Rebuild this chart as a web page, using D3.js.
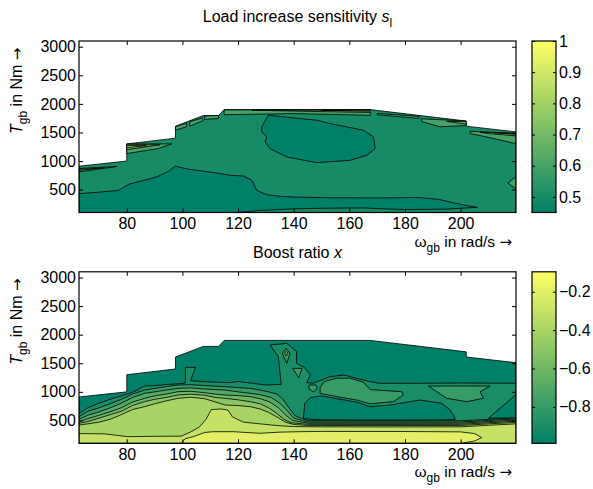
<!DOCTYPE html>
<html>
<head>
<meta charset="utf-8">
<script src="https://cdn.jsdelivr.net/npm/d3@7"></script>
<style>
  body { margin: 0; background: #fff; }
  text { font-family: "Liberation Sans", Arial, Helvetica, sans-serif; fill: #000; }
  .arrow { font-family: "DejaVu Sans", sans-serif; }
</style>
</head>
<body>
<svg id="fig" width="593" height="489"></svg>
<script>
// axis limits and ticks
var omegaMin = 62.83, omegaMax = 219.9, torqueMin = 100, torqueMax = 3100;
var omegaTicks = [80, 100, 120, 140, 160, 180, 200];
var torqueTicks = [500, 1000, 1500, 2000, 2500, 3000];
var sensRange = [0.45, 1.0];
var sensTicks = [0.5, 0.6, 0.7, 0.8, 0.9, 1];
var boostRange = [-0.99, -0.096];
var boostTicks = [-0.8, -0.6, -0.4, -0.2];

// max torque envelope [omega, torque]
var envelope = [[62.83,910],[80,1000],[80,1300],[97.5,1400],[97.5,1610],[107.5,1795],[113,1795],[115,1900],[167.5,1900],[202,1700],[202,1610],[219.9,1510]];
var feasible = envelope.concat([[219.9,100],[62.83,100]]);

// load increase sensitivity: contour patches
var sensLow = [[62.83,100],[62.83,430],[70,455],[77,487],[81,600],[86,660],[90.7,720],[95,820],[97.4,910],[102.5,855],[111,800],[117,752],[122,738],[125,662],[126.7,487],[130.3,411],[136,380],[141,369],[153,358],[171,355],[185,362],[192,330],[197.4,270],[203,215],[206,190],[195,160],[180,150],[165,180],[153,176],[141,165],[128,136],[119.5,100]];
var sensIsland = [[130.9,1802],[136.3,1772],[148.3,1714],[153.1,1656],[165.1,1539],[168.7,1421],[169.3,1218],[166.3,1100],[160.3,1013],[148.3,972],[137.5,1071],[131.5,1218],[129.7,1334],[130.3,1421],[128.5,1509],[128.5,1597]];
var sensNotch = [[219.9,730],[217,615],[219.9,510]];
var sensEdge1 = [[62.83,870],[76.5,905],[62.83,810]];
var sensEdge1b = [[62.83,855],[72,885],[62.83,835]];
var sensEdge2 = [[80,1300],[96.2,1300],[91.3,1218],[80,1130]];
var sensEdge2b = [[80,1285],[92,1285],[80,1200]];
var sensEdge2c = [[80,1270],[87,1270],[80,1235]];
var sensEdge3 = [[97.5,1600],[101.5,1660],[101.5,1600],[97.5,1540]];
var sensEdge4 = [[102.7,1690],[107,1750],[107.5,1710],[102.7,1610]];
var sensEdge5 = [[108,1790],[113,1795],[113,1745],[108,1728]];
var sensEdge6 = [[115,1895],[167.5,1895],[167.5,1800],[140,1830],[115,1810]];
var sensEdge6b = [[125,1890],[167.5,1890],[167.5,1850],[145,1870]];
var sensEdge6c = [[150,1888],[167,1888],[167,1870]];
var sensEdge7 = [[170,1835],[185,1780],[185,1745],[170,1810]];
var sensEdge8 = [[186,1740],[202,1700],[202,1620],[192.6,1600],[186,1690]];
var sensEdge8b = [[195,1695],[202,1690],[202,1645]];
var sensEdge9 = [[203.4,1520],[219.9,1485],[219.9,1305],[207.6,1440],[203.4,1480]];
var sensEdge9b = [[207,1505],[219.9,1480],[219.9,1440],[210,1480]];
var sensEdge9c = [[212,1495],[219.9,1478],[219.9,1465]];

// boost ratio: contour patches
var boostB9 = [[62.83,100],[62.83,624],[66,720],[70,800],[74,870],[78,930],[82,990],[86.4,1102],[90,1110],[95,1130],[101,1150],[101.1,1428],[104.7,1428],[102.9,1195],[108,1178],[116.4,1160],[120,1180],[125,1150],[130,1120],[135.5,1130],[135.1,1324],[134.5,1614],[131.5,1819],[137.5,1848],[141.1,1702],[141,1500],[144,1420],[146,1300],[144.7,1160],[147,1150],[153,1265],[158,1294],[162.7,1236],[167.5,1177],[171,1149],[185,1150],[200,1155],[219.9,1150],[219.9,100]];
var boostHole = [[143.5,560],[144,800],[146,900],[150,930],[155.5,880],[162.7,820],[167.5,740],[174.7,770],[185.4,857],[193.2,800],[196.2,683],[198,540],[198,515],[190,508],[170,506],[150,510],[143.5,530]];
var boostCorner = [[210,540],[219.9,950],[219.9,540]];
var boostIslandA = [[149.5,1080],[151,1180],[155.5,1240],[160.3,1240],[165,1170],[167.5,1040],[178.9,1002],[179.4,945],[175.9,830],[167.5,790],[162.7,857],[155.5,915],[149.5,974]];
var boostIslandB = [[188.4,1102],[210.6,1102],[207,1002],[208.2,887],[202.2,828],[195,887]];
var boostLoop = [[145.5,1120],[148,1120],[148.5,1060],[147,1000],[145.5,1050]];
var boostKite = [[137.3,1761],[138.7,1674],[137.5,1499],[135.9,1674]];
var boostKiteCore = [[137.3,1710],[137.9,1675],[137.3,1630],[136.7,1675]];
var boostWedge = [[139.6,1411],[143,1411],[141.8,1250]];
var boostB8 = [[62.83,100],[62.83,566],[66,660],[70,720],[74,790],[78,870],[82,960],[86.4,1032],[90,1060],[94,1090],[98.4,1120],[103,1125],[108,1110],[112,1100],[115.3,1090],[120,1075],[124.3,1061],[128,1030],[131,1000],[134,960],[136,880],[138,740],[140.5,580],[145,495],[170,492],[200,494],[210,520],[219.9,545],[219.9,100]];
var boostB7 = [[62.83,100],[62.83,519],[66,590],[70,650],[74,720],[78,800],[82,900],[86.4,974],[90,1000],[94,1030],[98.4,1061],[103,1070],[108,1050],[112,1040],[115.3,1032],[120,1000],[124.3,974],[128,950],[132,900],[135,800],[137.5,680],[140,540],[145,472],[170,470],[200,472],[210,500],[219.9,525],[219.9,100]];
var boostB6 = [[62.83,100],[62.83,478],[66,530],[70,590],[74,650],[78,720],[82,820],[86.4,886],[90,930],[94,960],[98.4,1003],[103,1010],[108,985],[112,960],[115.3,945],[120,935],[124.3,916],[128,880],[131.5,820],[134.5,720],[137,600],[139.5,500],[145,452],[170,450],[200,452],[210,480],[219.9,505],[219.9,100]];
var boostB5 = [[62.83,100],[62.83,449],[66,480],[70,540],[74,600],[78,660],[82,760],[86.4,828],[90,870],[94,900],[98.4,945],[103,960],[108,940],[112,900],[115.3,887],[120,860],[124.3,829],[128,790],[131,720],[134,620],[136.5,520],[139,460],[145,432],[170,430],[200,432],[210,460],[219.9,485],[219.9,100]];
var boostB4 = [[62.83,100],[62.83,420],[66,440],[70,470],[74,520],[78,600],[82,690],[86.4,741],[90,790],[94,840],[98.4,886],[103,905],[108,880],[112,820],[115.3,770],[120,760],[124.3,741],[128,700],[131,640],[134,560],[137,470],[140,430],[145,412],[170,410],[200,412],[210,440],[219.9,465],[219.9,100]];
var boostB3 = [[62.83,100],[62.83,270],[72,265],[80.4,216],[90,222],[99.6,225],[103,300],[106,380],[108.5,520],[110.4,690],[114,700],[116.4,680],[118,560],[122,470],[128,440],[134,410],[140,392],[150,388],[180,386],[200,388],[210,415],[219.9,440],[219.9,100]];
var boostB2 = [[99.6,100],[101,180],[103.9,216],[108,290],[111.1,303],[118.3,303],[127.9,275],[135,295],[142.3,303],[150,308],[180,306],[200,300],[205,270],[207.6,200],[205,140],[200,100]];

var sensLayers = [
  [feasible, 0.5], [sensLow, 0.45], [sensIsland, 0.45], [sensNotch, 0.6],
  [sensEdge1, 0.6], [sensEdge1b, 0.7], [sensEdge2, 0.6], [sensEdge2b, 0.7], [sensEdge2c, 0.8],
  [sensEdge3, 0.6], [sensEdge4, 0.6], [sensEdge5, 0.6],
  [sensEdge6, 0.6], [sensEdge6b, 0.7], [sensEdge6c, 0.8], [sensEdge7, 0.6],
  [sensEdge8, 0.6], [sensEdge8b, 0.7], [sensEdge9, 0.6], [sensEdge9b, 0.7], [sensEdge9c, 0.8]
];
var boostLayers = [
  [feasible, -0.99], [boostB9, -0.9], [boostHole, -0.99], [boostCorner, -0.99],
  [boostIslandA, -0.8], [boostIslandB, -0.8], [boostLoop, -0.8], [boostKite, -0.8], [boostKiteCore, -0.7], [boostWedge, -0.8],
  [boostB8, -0.8], [boostB7, -0.7], [boostB6, -0.6], [boostB5, -0.5], [boostB4, -0.4], [boostB3, -0.3], [boostB2, -0.2]
];

var svg = d3.select("#fig");
svg.append("rect").attr("width", 593).attr("height", 489).attr("fill", "#fff");
var defs = svg.append("defs");

// matlab "summer" colormap
function summer(t) {
  t = Math.max(0, Math.min(1, t));
  return d3.rgb(255 * t, 255 * (0.5 + 0.5 * t), 102).toString();
}

function drawPanel(o) {
  var h = 171.5, left = 79, right = 516;
  var x = d3.scaleLinear().domain([omegaMin, omegaMax]).range([left, right]);
  var y = d3.scaleLinear().domain([torqueMin, torqueMax]).range([o.top + h, o.top]);
  var norm = d3.scaleLinear().domain(o.range).range([0, 1]);
  var g = svg.append("g");

  defs.append("clipPath").attr("id", o.id + "-clip")
    .append("rect").attr("x", left).attr("y", o.top).attr("width", right - left).attr("height", h);

  var area = d3.line().x(function(d){ return x(d[0]); }).y(function(d){ return y(d[1]); })
    .curve(d3.curveLinearClosed);

  g.append("g").attr("clip-path", "url(#" + o.id + "-clip)")
    .selectAll("path").data(o.layers).join("path")
    .attr("d", function(d){ return area(d[0]); })
    .attr("fill", function(d){ return summer(norm(d[1])); })
    .attr("stroke", "#000").attr("stroke-width", 0.8).attr("stroke-linejoin", "round");

  // axes, matlab style ticks inside, box on
  var fs = "16px";
  var bx = g.append("g").attr("transform", "translate(0," + (o.top + h) + ")")
    .call(d3.axisBottom(x).tickValues(omegaTicks).tickSizeInner(-4).tickSizeOuter(0).tickPadding(5));
  var tx = g.append("g").attr("transform", "translate(0," + o.top + ")")
    .call(d3.axisTop(x).tickValues(omegaTicks).tickSizeInner(-4).tickSizeOuter(0).tickFormat(function(){ return ""; }));
  var ly = g.append("g").attr("transform", "translate(" + left + ",0)")
    .call(d3.axisLeft(y).tickValues(torqueTicks).tickSizeInner(-4).tickSizeOuter(0).tickPadding(3)
      .tickFormat(d3.format("d")));
  var ry = g.append("g").attr("transform", "translate(" + right + ",0)")
    .call(d3.axisRight(y).tickValues(torqueTicks).tickSizeInner(-4).tickSizeOuter(0).tickFormat(function(){ return ""; }));
  [bx, tx, ly, ry].forEach(function(a){
    a.select(".domain").remove();
    a.selectAll("line").attr("stroke", "#000");
    a.selectAll("text").style("font-size", fs).attr("font-family", null);
  });
  g.append("rect").attr("x", left).attr("y", o.top).attr("width", right - left).attr("height", h)
    .attr("fill", "none").attr("stroke", "#000").attr("stroke-width", 1.2);

  // colorbar
  var cbX = 532, cbW = 24;
  var grad = defs.append("linearGradient").attr("id", o.id + "-grad")
    .attr("x1", 0).attr("y1", 1).attr("x2", 0).attr("y2", 0);
  d3.range(0, 1.0001, 0.05).forEach(function(t){
    grad.append("stop").attr("offset", t).attr("stop-color", summer(t));
  });
  g.append("rect").attr("x", cbX).attr("y", o.top).attr("width", cbW).attr("height", h)
    .attr("fill", "url(#" + o.id + "-grad)");
  var cy = d3.scaleLinear().domain(o.range).range([o.top + h, o.top]);
  var cr = g.append("g").attr("transform", "translate(" + (cbX + cbW) + ",0)")
    .call(d3.axisRight(cy).tickValues(o.ticks).tickSizeInner(-3).tickSizeOuter(0).tickPadding(3)
      .tickFormat(function(d){ return d === 1 ? "1" : d3.format(".1f")(d); }));
  var cl = g.append("g").attr("transform", "translate(" + cbX + ",0)")
    .call(d3.axisLeft(cy).tickValues(o.ticks).tickSizeInner(-3).tickSizeOuter(0).tickFormat(function(){ return ""; }));
  [cr, cl].forEach(function(a){
    a.select(".domain").remove();
    a.selectAll("line").attr("stroke", "#000");
    a.selectAll("text").style("font-size", fs).attr("font-family", null);
  });
  g.append("rect").attr("x", cbX).attr("y", o.top).attr("width", cbW).attr("height", h)
    .attr("fill", "none").attr("stroke", "#000").attr("stroke-width", 1.2);

  // labels
  var xl = g.append("text").attr("x", 512).attr("y", o.top + h + 34)
    .attr("text-anchor", "end").style("font-size", "15.5px");
  xl.append("tspan").text("ω");
  xl.append("tspan").attr("dy", 5).style("font-size", "12px").text("gb");
  xl.append("tspan").attr("dy", -5).text(" in rad/s ");
  xl.append("tspan").attr("class", "arrow").style("font-size", "15px").text("→");

  var yl = g.append("text").attr("transform", "translate(22," + (o.top + 93) + ") rotate(-90)")
    .style("font-size", fs);
  yl.append("tspan").style("font-style", "italic").text("T");
  yl.append("tspan").attr("dy", 5).style("font-size", "12px").text("gb");
  yl.append("tspan").attr("dy", -5).text(" in Nm ");
  yl.append("tspan").attr("class", "arrow").style("font-size", "15px").text("→");

  var tt = g.append("text").attr("x", (left + right) / 2).attr("y", o.titleY)
    .attr("text-anchor", "middle").style("font-size", fs);
  tt.append("tspan").text(o.title);
  tt.append("tspan").style("font-style", "italic").text(o.titleVar);
  if (o.titleSub) tt.append("tspan").attr("dy", 5).style("font-size", "12px").text(o.titleSub);
}

drawPanel({ id: "sens", top: 41, layers: sensLayers, range: sensRange, ticks: sensTicks,
  title: "Load increase sensitivity ", titleVar: "s", titleSub: "l", titleY: 22 });
drawPanel({ id: "boost", top: 271.8, layers: boostLayers, range: boostRange, ticks: boostTicks,
  title: "Boost ratio ", titleVar: "x", titleSub: null, titleY: 258 });
</script>
</body>
</html>
